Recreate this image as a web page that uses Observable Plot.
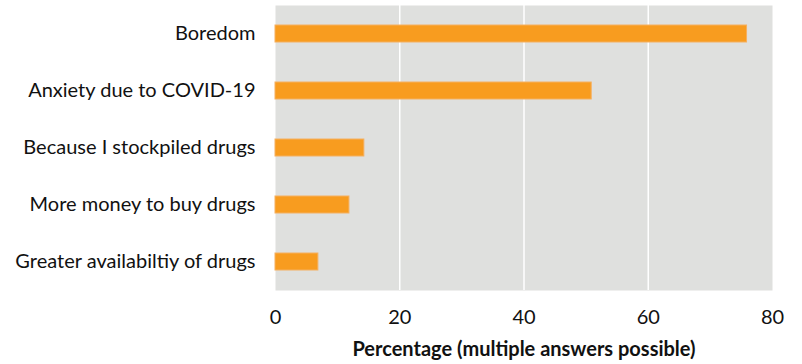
<!DOCTYPE html>
<html><head><meta charset="utf-8">
<script src="https://cdn.jsdelivr.net/npm/d3@7"></script>
<script src="https://cdn.jsdelivr.net/npm/@observablehq/plot@0.6"></script>
<style>body{margin:0;background:#fff}</style>
</head><body><div id="chart"></div>
<script>
const reasons = ["Boredom","Anxiety due to COVID-19","Because I stockpiled drugs","More money to buy drugs","Greater availabiltiy of drugs"];
const percentages = [75.9, 50.9, 14.3, 11.9, 6.9];
const xTicks = [0, 20, 40, 60, 80];
const xTitle = "Percentage (multiple answers possible)";

const data = reasons.map((r, i) => ({reason: r, value: percentages[i]}));

const chart = Plot.plot({
  width: 802, height: 364,
  marginLeft: 275, marginRight: 30, marginTop: 5, marginBottom: 74,
  style: {fontFamily: "Lato, sans-serif", fontSize: "20px", color: "#111", background: "#fff"},
  x: {domain: [0, 80], ticks: xTicks},
  y: {domain: reasons, paddingInner: 0.7, paddingOuter: 0.35},
  marks: [
    Plot.frame({fill: "#dfe0de", stroke: null}),
    Plot.ruleX(xTicks.slice(1, -1), {stroke: "#fff", strokeWidth: 1.5}),
    Plot.barX(data, {x: "value", y: "reason", fill: "#f89c1f", stroke: "#f5b060", strokeWidth: 1}),
    Plot.axisY({tickSize: 0, tickPadding: 20, fontSize: 20, label: null}),
    Plot.axisX({ticks: xTicks, tickSize: 0, tickPadding: 19, fontSize: 20, label: null}),
    Plot.text([xTitle], {frameAnchor: "bottom", dy: 65, fontWeight: "bold", fontSize: 20, fill: "#111"})
  ]
});
document.getElementById("chart").appendChild(chart);
</script></body></html>
